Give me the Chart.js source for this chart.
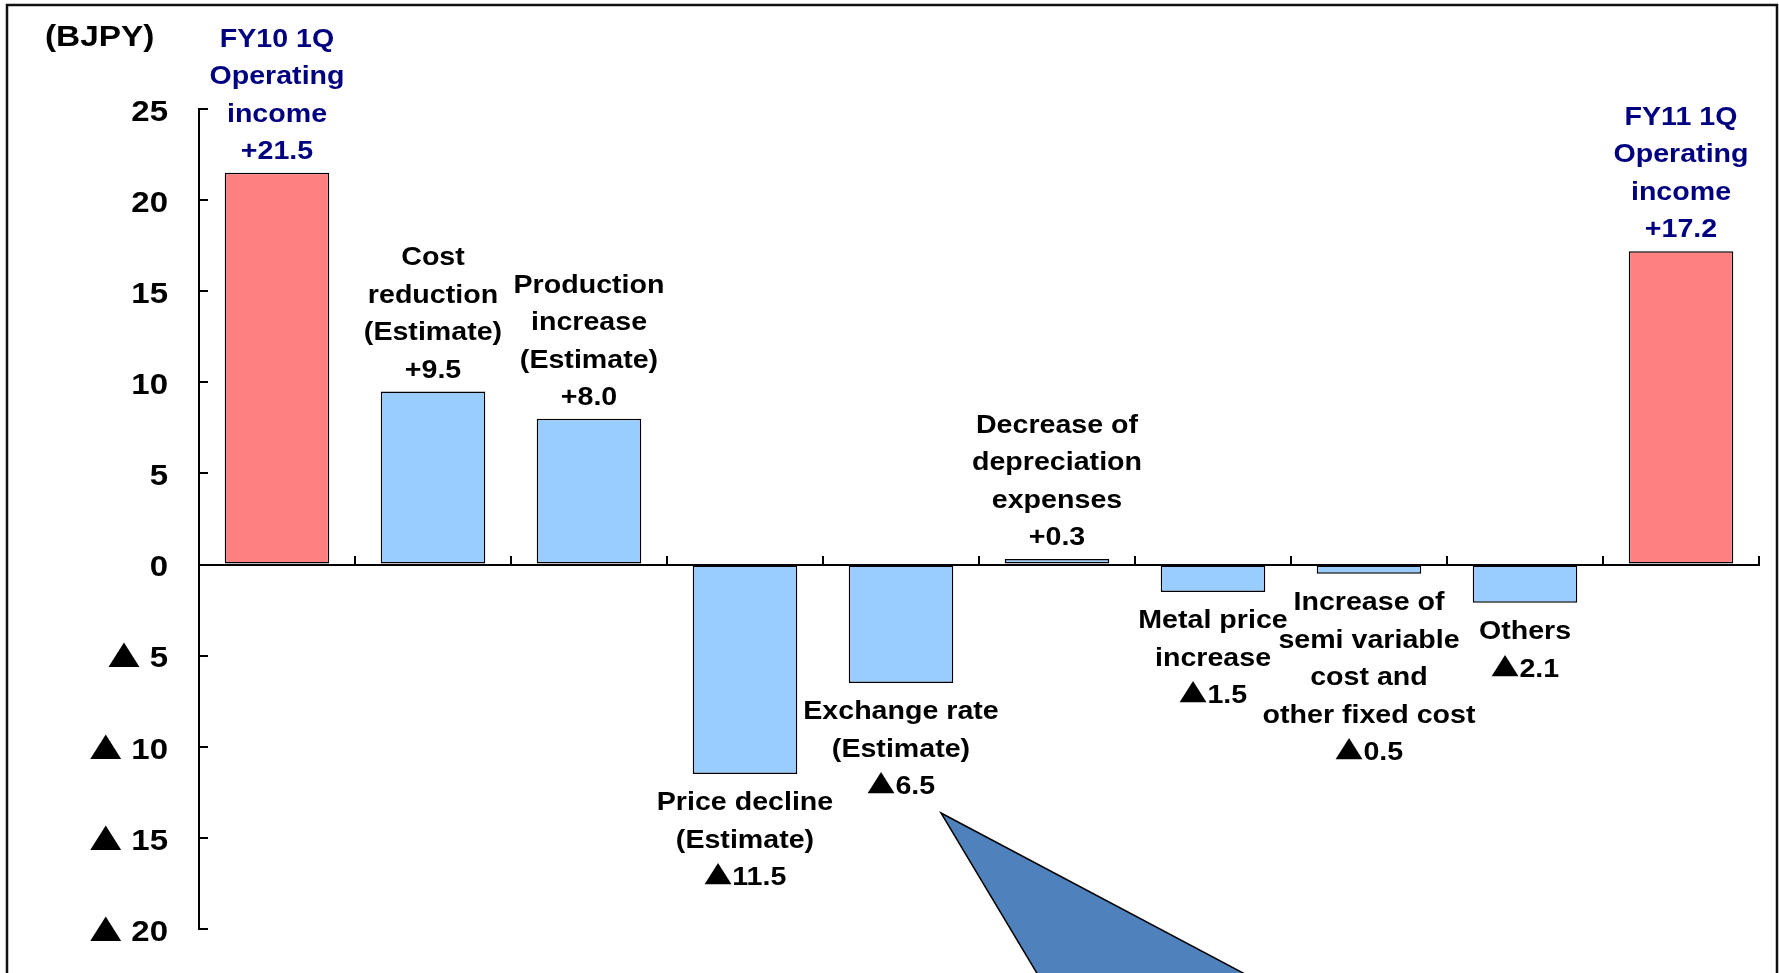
<!DOCTYPE html>
<html>
<head>
<meta charset="utf-8">
<script src="https://cdn.jsdelivr.net/npm/chart.js@4.4.1/dist/chart.umd.min.js"></script>
<style>
  html, body { margin: 0; padding: 0; background: #fff; }
  #wrap { width: 1779px; height: 973px; position: relative; }
</style>
</head>
<body>
<div id="wrap"><canvas id="bridgeChart"></canvas></div>
<script>
// operating income bridge, FY10 1Q -> FY11 1Q (BJPY)
const categories = [
  ['FY10 1Q', 'Operating', 'income'],
  ['Cost', 'reduction', '(Estimate)'],
  ['Production', 'increase', '(Estimate)'],
  ['Price decline', '(Estimate)'],
  ['Exchange rate', '(Estimate)'],
  ['Decrease of', 'depreciation', 'expenses'],
  ['Metal price', 'increase'],
  ['Increase of', 'semi variable', 'cost and', 'other fixed cost'],
  ['Others'],
  ['FY11 1Q', 'Operating', 'income']
];
const values = [21.5, 9.5, 8.0, -11.5, -6.5, 0.3, -1.5, -0.5, -2.1, 17.2];
const isTotal = [true, false, false, false, false, false, false, false, false, true];
const yMin = -20;
const yMax = 25;
const yStep = 5;
const unitLabel = '(BJPY)';

const FONT = '"Liberation Sans", Arial, sans-serif';
const TRI_FONT = '"Noto Sans CJK JP", "DejaVu Sans", sans-serif';
const STRETCH = 1.1;   // the slide text is a little wider than plain Arial
const LINE_H = 37.5;

function fmtTick(v) {
  return v < 0 ? '▲ ' + Math.abs(v) : String(v);
}
function fmtValue(v) {
  return v < 0 ? '▲' + Math.abs(v).toFixed(1) : '+' + v.toFixed(1);
}

// draws text with its vertical centre at y; the ▲ mark comes from a full-width font
function wideText(ctx, text, x, y, align, size) {
  const runs = text.split(/(▲)/).filter(s => s);
  const fontFor = r => 'bold ' + size + 'px ' + (r === '▲' ? TRI_FONT : FONT);
  let w = 0;
  runs.forEach(r => { ctx.font = fontFor(r); w += ctx.measureText(r).width; });
  ctx.save();
  ctx.translate(x, y + size * 0.36);
  ctx.scale(STRETCH, 1);
  ctx.textAlign = 'left';
  ctx.textBaseline = 'alphabetic';
  let cx = align === 'center' ? -w / 2 : (align === 'right' ? -w : 0);
  runs.forEach(r => {
    ctx.font = fontFor(r);
    ctx.fillText(r, cx, 0);
    cx += ctx.measureText(r).width;
  });
  ctx.restore();
}

const framePlugin = {
  id: 'frame',
  beforeDraw(chart) {
    const ctx = chart.ctx;
    ctx.save();
    ctx.fillStyle = '#fff';
    ctx.fillRect(0, 0, chart.width, chart.height);
    ctx.restore();
  },
  afterDraw(chart) {
    const ctx = chart.ctx;
    ctx.save();
    // slide frame (bottom edge is cut off)
    ctx.strokeStyle = '#111';
    ctx.lineWidth = 2.5;
    ctx.strokeRect(7, 5, 1770, chart.height + 20);
    // callout wedge below the exchange rate label
    ctx.beginPath();
    ctx.moveTo(941, 813);
    ctx.lineTo(1294, 1000);
    ctx.lineTo(1053, 1000);
    ctx.closePath();
    ctx.fillStyle = '#4F81BD';
    ctx.fill();
    ctx.strokeStyle = '#000';
    ctx.lineWidth = 1.5;
    ctx.stroke();
    // unit
    ctx.fillStyle = '#000';
    ctx.font = 'bold 29px ' + FONT;
    ctx.textBaseline = 'middle';
    ctx.save();
    ctx.translate(45, 38);
    ctx.scale(1.15, 1);
    ctx.textAlign = 'left';
    ctx.fillText(unitLabel, 0, 0);
    ctx.restore();
    // y tick labels
    const ys = chart.scales.y;
    ys.ticks.forEach(t => {
      wideText(ctx, fmtTick(t.value), ys.right - 31, ys.getPixelForValue(t.value) + 1, 'right', 30);
    });
    ctx.restore();
  }
};

const barLabelPlugin = {
  id: 'barLabels',
  afterDatasetsDraw(chart) {
    const ctx = chart.ctx;
    const meta = chart.getDatasetMeta(0);
    ctx.save();
    meta.data.forEach((bar, i) => {
      const v = values[i];
      const lines = categories[i].concat(fmtValue(v));
      const n = lines.length;
      ctx.fillStyle = isTotal[i] ? '#000080' : '#000';
      lines.forEach((line, k) => {
        const y = v >= 0
          ? bar.y - 23 - (n - 1 - k) * LINE_H
          : bar.y + 27 + k * LINE_H;
        wideText(ctx, line, bar.x, y, 'center', 26);
      });
    });
    ctx.restore();
  }
};

new Chart(document.getElementById('bridgeChart').getContext('2d'), {
  type: 'bar',
  data: {
    labels: categories,
    datasets: [{
      data: values,
      backgroundColor: isTotal.map(t => t ? '#FF8080' : '#99CCFF'),
      borderColor: '#000',
      borderWidth: 1.5,
      borderSkipped: false,
      barPercentage: 0.67,
      categoryPercentage: 1
    }]
  },
  options: {
    responsive: true,
    maintainAspectRatio: false,
    animation: false,
    layout: { padding: { left: 0, top: 109, right: 20, bottom: 44 } },
    plugins: {
      legend: { display: false },
      tooltip: { enabled: false }
    },
    scales: {
      x: {
        position: { y: 0 },
        offset: true,
        ticks: { display: false },
        grid: { offset: true, drawOnChartArea: false, drawTicks: true, tickLength: -10, color: '#000', lineWidth: 2 },
        border: { display: true, color: '#000', width: 2 }
      },
      y: {
        min: yMin,
        max: yMax,
        ticks: { stepSize: yStep, display: false },
        grid: { drawOnChartArea: false, drawTicks: true, tickLength: -9, color: '#000', lineWidth: 2 },
        border: { display: true, color: '#000', width: 2 },
        afterFit(scale) { scale.width = 199; }
      }
    }
  },
  plugins: [framePlugin, barLabelPlugin]
});
</script>
</body>
</html>
